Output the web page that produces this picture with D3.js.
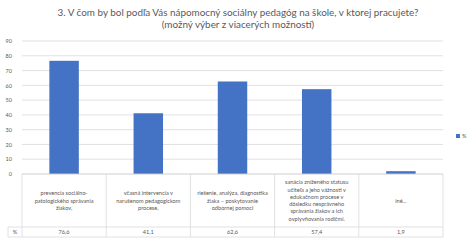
<!DOCTYPE html>
<html>
<head>
<meta charset="utf-8">
<script src="https://cdn.jsdelivr.net/npm/d3@7"></script>
<style>
  body { margin: 0; background: #fff; }
  text { font-family: Lato, "Open Sans", sans-serif; fill: #595959; }
</style>
</head>
<body>
<svg id="chart"></svg>
<script>
// data
const titleLines = ['3. V čom by bol podľa Vás nápomocný sociálny pedagóg na škole, v ktorej pracujete?',
  '(možný výber z viacerých možností)'];
const categories = [
  ['prevencia sociálno-', 'patologického správania', 'žiakov,'],
  ['včasná intervencia v', 'narušenom pedagogickom', 'procese,'],
  ['riešenie, analýza, diagnostika', 'žiaka – poskytovanie', 'odbornej pomoci'],
  ['sanácia zníženého statusu', 'učiteľa a jeho vážnosti v', 'edukačnom procese v', 'dôsledku nesprávneho', 'správania žiakov a ich', 'ovplyvňovania rodičmi.'],
  ['iné...']
];
const values = [76.6, 41.1, 62.6, 57.4, 1.9];
const valueLabels = ['76,6', '41,1', '62,6', '57,4', '1,9'];
const yTicks = [0, 10, 20, 30, 40, 50, 60, 70, 80, 90];
const seriesName = '%';

const width = 474, height = 242;
const margin = {top: 41, left: 22, right: 31, bottom: 68};
const innerW = width - margin.left - margin.right;
const innerH = height - margin.top - margin.bottom;

const svg = d3.select('#chart').attr('width', width).attr('height', height);

// title
svg.append('text')
    .attr('x', 237).attr('y', 0)
    .attr('text-anchor', 'middle')
    .style('font-size', '9.9px')
    .selectAll('tspan')
    .data(titleLines)
  .join('tspan')
    .attr('x', 238)
    .attr('y', (d, i) => 16 + i * 12)
    .text(d => d);

const chart = svg.append('g').attr('transform', `translate(${margin.left},${margin.top})`);

const x = d3.scaleBand().domain(d3.range(values.length)).range([0, innerW]).padding(0);
const y = d3.scaleLinear().domain([0, 90]).range([innerH, 0]);

// gridlines
chart.append('g')
    .selectAll('line')
    .data(yTicks)
  .join('line')
    .attr('x1', 0).attr('x2', innerW)
    .attr('y1', d => y(d)).attr('y2', d => y(d))
    .attr('stroke', '#d9d9d9').attr('stroke-width', 0.8);

// y axis labels
const yAxis = d3.axisLeft(y).tickValues(yTicks).tickSize(0).tickPadding(10);
chart.append('g').call(yAxis)
    .call(g => g.select('.domain').remove())
    .selectAll('text')
    .style('font-size', '5.5px')
    .style('font-family', 'Lato, sans-serif')
    .attr('fill', '#595959');

// bars
const barW = x.bandwidth() * 0.35;
chart.selectAll('.bar')
    .data(values)
  .join('rect')
    .attr('class', 'bar')
    .attr('x', (d, i) => x(i) + (x.bandwidth() - barW) / 2)
    .attr('width', barW)
    .attr('y', d => y(d))
    .attr('height', d => innerH - y(d))
    .attr('fill', '#4472c4');

// data table below the chart
const rowTop = innerH;
const rowSplit = innerH + 53;
const rowBottom = innerH + 63;
const tableLine = '#d9d9d9';
const table = chart.append('g');

table.append('line')
    .attr('x1', 0).attr('x2', innerW)
    .attr('y1', rowTop).attr('y2', rowTop)
    .attr('stroke', tableLine).attr('stroke-width', 0.8);
table.selectAll('.hrow')
    .data([rowSplit, rowBottom])
  .join('line')
    .attr('x1', -14).attr('x2', innerW)
    .attr('y1', d => d).attr('y2', d => d)
    .attr('stroke', tableLine).attr('stroke-width', 0.8);
table.selectAll('.vcol')
    .data(d3.range(values.length + 1))
  .join('line')
    .attr('x1', i => i < values.length ? x(i) : innerW)
    .attr('x2', i => i < values.length ? x(i) : innerW)
    .attr('y1', rowTop).attr('y2', rowBottom)
    .attr('stroke', tableLine).attr('stroke-width', 0.8);
table.append('line')
    .attr('x1', -14).attr('x2', -14)
    .attr('y1', rowSplit).attr('y2', rowBottom)
    .attr('stroke', tableLine).attr('stroke-width', 0.8);

// category labels
const lineH = 7.3;
table.selectAll('.cat')
    .data(categories)
  .join('text')
    .attr('class', 'cat')
    .attr('text-anchor', 'middle')
    .style('font-size', '5.6px')
    .each(function(lines, i) {
      const cx = x(i) + x.bandwidth() / 2;
      const cy = rowTop + 26.5 - (lines.length - 1) * lineH / 2;
      d3.select(this).selectAll('tspan')
          .data(lines)
        .join('tspan')
          .attr('x', cx)
          .attr('y', (d, j) => cy + j * lineH + 2)
          .text(d => d);
    });

// value row
table.selectAll('.val')
    .data(valueLabels)
  .join('text')
    .attr('class', 'val')
    .attr('x', (d, i) => x(i) + x.bandwidth() / 2)
    .attr('y', rowSplit + 7)
    .attr('text-anchor', 'middle')
    .style('font-size', '5.6px')
    .text(d => d);

table.append('text')
    .attr('x', -7).attr('y', rowSplit + 7)
    .attr('text-anchor', 'middle')
    .style('font-size', '5.6px')
    .text(seriesName);

// legend
const legend = svg.append('g').attr('transform', 'translate(456,134)');
legend.append('rect').attr('width', 4).attr('height', 4).attr('fill', '#4472c4');
legend.append('text').attr('x', 6).attr('y', 4).style('font-size', '5.6px').text(seriesName);
</script>
</body>
</html>
